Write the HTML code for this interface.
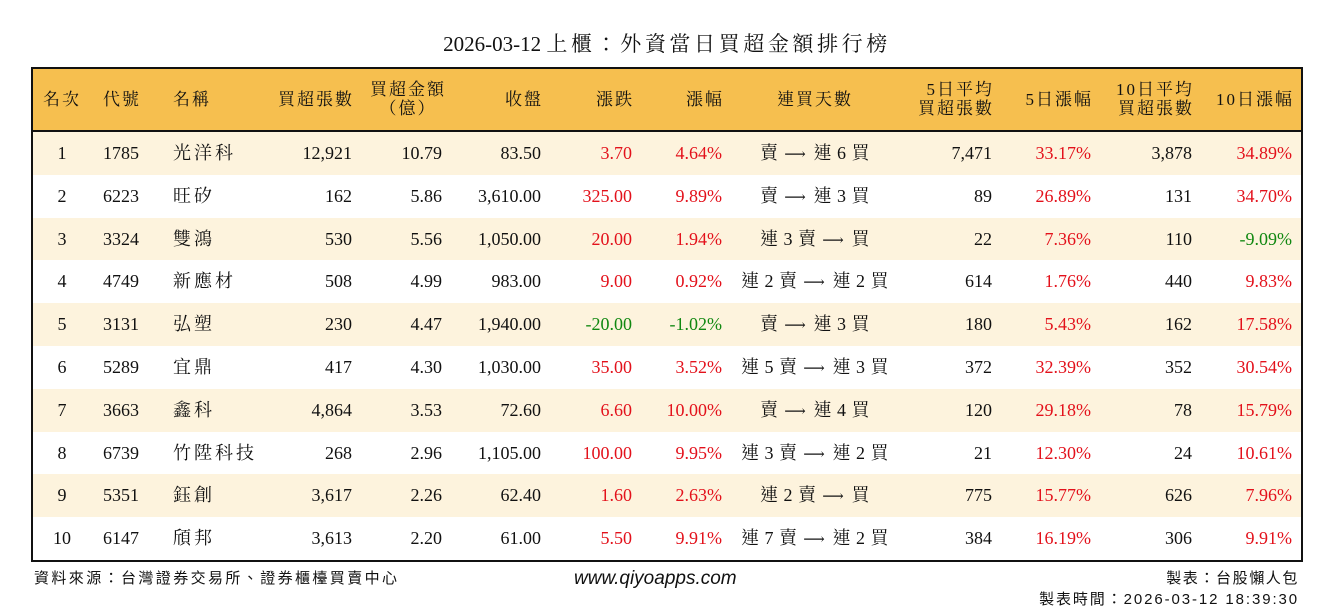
<!DOCTYPE html>
<html><head><meta charset="utf-8">
<style>
body{margin:0;width:1334px;height:612px;background:#fff;position:relative;overflow:hidden;font-family:"Liberation Serif","Noto Serif CJK TC",serif;color:#111}
.a{position:absolute;white-space:nowrap}
#title{left:0;width:1334px;top:28px;text-align:center;font-size:21px}
.cj{letter-spacing:3.6px}
#tbl{position:absolute;left:31px;top:67px;width:1268px;height:491px;border:2px solid #111;overflow:hidden}
#hdr{position:absolute;left:0;top:0;width:1268px;height:61px;background:#f6bf4f;border-bottom:2px solid #111}
.row{position:absolute;left:0;width:1268px;height:43px}
.c{position:absolute;font-size:18px;line-height:43px;white-space:nowrap;letter-spacing:0}
.k{letter-spacing:3px}
.s{letter-spacing:0.5px}
.h{position:absolute;font-size:17px;line-height:19px;white-space:nowrap;text-align:center;letter-spacing:2px}
.ar{font-family:"DejaVu Serif",serif;font-size:15px;letter-spacing:0;margin:0 3px 0 1px}
.red{color:#e3111b}.grn{color:#118811}
.f{font-family:"Liberation Sans","Noto Sans CJK TC",sans-serif;font-size:15px;letter-spacing:1.6px}
</style></head><body>
<div class="a" id="title">2026-03-12 <span class="cj">上櫃：外資當日買超金額排行榜</span></div>
<div id="tbl">
<div id="hdr"></div>
</div>
<div class="a f" style="left:34px;top:567px;letter-spacing:2.4px">資料來源：台灣證券交易所、證券櫃檯買賣中心</div>
<div class="a" style="left:574px;top:568px;font-family:'Liberation Sans',sans-serif;font-style:italic;font-size:19px">www.qiyoapps.com</div>
<div class="a f" style="right:35px;top:567px;text-align:right">製表：台股懶人包</div>
<div class="a f" style="right:35px;top:588px;text-align:right;letter-spacing:1.9px">製表時間：2026-03-12 18:39:30</div>
<script>
const ranks=["1","2","3","4","5","6","7","8","9","10"];
const codes=["1785","6223","3324","4749","3131","5289","3663","6739","5351","6147"];
const names=["光洋科","旺矽","雙鴻","新應材","弘塑","宜鼎","鑫科","竹陞科技","鈺創","頎邦"];
const netShares=["12,921","162","530","508","230","417","4,864","268","3,617","3,613"];
const netAmount=["10.79","5.86","5.56","4.99","4.47","4.30","3.53","2.96","2.26","2.20"];
const closes=["83.50","3,610.00","1,050.00","983.00","1,940.00","1,030.00","72.60","1,105.00","62.40","61.00"];
const changes=["3.70","325.00","20.00","9.00","-20.00","35.00","6.60","100.00","1.60","5.50"];
const pcts=["4.64%","9.89%","1.94%","0.92%","-1.02%","3.52%","10.00%","9.95%","2.63%","9.91%"];
const streaks=["賣 → 連 6 買","賣 → 連 3 買","連 3 賣 → 買","連 2 賣 → 連 2 買","賣 → 連 3 買","連 5 賣 → 連 3 買","賣 → 連 4 買","連 3 賣 → 連 2 買","連 2 賣 → 買","連 7 賣 → 連 2 買"];
const avg5=["7,471","89","22","614","180","372","120","21","775","384"];
const pct5=["33.17%","26.89%","7.36%","1.76%","5.43%","32.39%","29.18%","12.30%","15.77%","16.19%"];
const avg10=["3,878","131","110","440","162","352","78","24","626","306"];
const pct10=["34.89%","34.70%","-9.09%","9.83%","17.58%","30.54%","15.79%","10.61%","7.96%","9.91%"];
const tbl=document.getElementById('tbl');
const hdr=document.getElementById('hdr');
const OX=33;
const cols=[
 ["名次","c",62,ranks,0,"rank"],["代號","l",103,codes,0,"code"],["名稱","l",173,names,0,"name"],
 ["買超張數","r",352,netShares,0,"net-shares"],["買超金額<br>（億）","r",442,netAmount,0,"net-amount"],
 ["收盤","r",541,closes,0,"close"],["漲跌","r",632,changes,1,"change"],["漲幅","r",722,pcts,1,"change-pct"],
 ["連買天數","c",815,streaks,0,"streak"],["5日平均<br>買超張數","r",992,avg5,0,"avg5"],["5日漲幅","r",1091,pct5,1,"pct5"],
 ["10日平均<br>買超張數","r",1192,avg10,0,"avg10"],["10日漲幅","r",1292,pct10,1,"pct10"]];
function place(el,al,x){
 x-=OX;
 if(al==="l"){el.style.left=x+'px';}
 else if(al==="r"){el.style.right=(1268-x)+'px';el.style.textAlign='right';}
 else{el.style.left=(x-100)+'px';el.style.width='200px';el.style.textAlign='center';}
}
cols.forEach(c=>{
 const h=document.createElement('div');
 h.className='h';h.innerHTML=c[0];
 
 
 const two=c[0].includes('<br>');
 h.style.top=two?'11px':'21px';
 if(c[5]==="net-amount"){h.style.left=(408-OX-60)+'px';h.style.width='120px';}
 else place(h,c[1],c[2]);
 if(c[1]==="r") h.style.marginRight='-2px';
 hdr.appendChild(h);
});
ranks.forEach((r,i)=>{
 const row=document.createElement('div');
 row.className='row';
 
 
 row.style.top=(63+i*42.8)+'px';
 row.style.background=i%2===0?'#fdf3dd':'#fff';
 cols.forEach(c=>{
  const d=document.createElement('div');
  d.className='c';
  
  
  const v=c[3][i];
  if(c[5]==="name"){d.textContent=v;d.classList.add('k');}
  else if(c[5]==="streak"){
   d.innerHTML=v.split(' → ').map(s=>'<span class="s">'+s+'</span>').join('<span class="ar"> ⟶ </span>');
  }
  else d.textContent=v;
  if(c[4]) d.classList.add(v.startsWith('-')?'grn':'red');
  place(d,c[1],c[2]);
  row.appendChild(d);
 });
 tbl.appendChild(row);
});
</script>
</body></html>
